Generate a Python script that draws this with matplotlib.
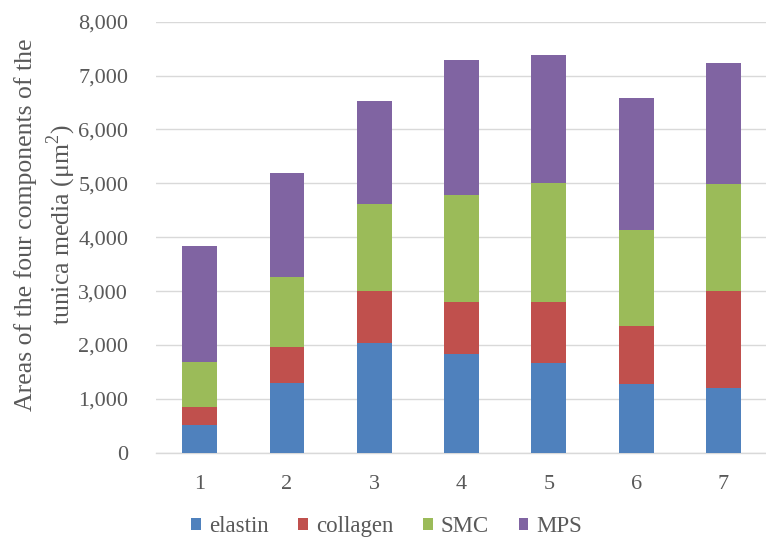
import matplotlib
matplotlib.use("Agg")
import matplotlib.pyplot as plt
from matplotlib.ticker import FuncFormatter
import numpy as np

plt.rcParams['font.family'] = ['Liberation Serif', 'DejaVu Serif']
plt.rcParams['mathtext.fontset'] = 'custom'
plt.rcParams['mathtext.rm'] = 'Liberation Serif'

categories = ["1", "2", "3", "4", "5", "6", "7"]
elastin = [510, 1290, 2030, 1840, 1670, 1270, 1195]
collagen = [330, 670, 970, 950, 1120, 1090, 1805]
smc = [850, 1305, 1620, 2000, 2210, 1770, 1980]
mps = [2150, 1925, 1905, 2500, 2380, 2460, 2260]

series = [
    ("elastin", elastin, "#4F81BD"),
    ("collagen", collagen, "#C0504D"),
    ("SMC", smc, "#9BBB59"),
    ("MPS", mps, "#8064A2"),
]

fig = plt.figure(figsize=(7.66, 5.43), dpi=100)
ax = fig.add_axes([0.2037, 0.1663, 0.7977, 0.7937])

x = np.arange(1, len(categories) + 1)
bottom = np.zeros(len(categories))
for name, vals, color in series:
    ax.bar(x, vals, width=0.4, bottom=bottom, color=color, label=name, zorder=3)
    bottom += np.array(vals)

ax.set_xlim(0.5, 7.5)
ax.set_ylim(0, 8000)
ax.set_yticks(np.arange(0, 8001, 1000))
ax.yaxis.set_major_formatter(FuncFormatter(lambda v, p: f"{int(v):,}"))
ax.set_xticks(x)
ax.set_xticklabels(categories)

ax.grid(axis='y', color='#D9D9D9', linewidth=1.0, zorder=0)
for s in ['top', 'right', 'left']:
    ax.spines[s].set_visible(False)
ax.spines['bottom'].set_color('#D9D9D9')
ax.spines['bottom'].set_linewidth(1.0)
ax.tick_params(axis='both', length=0, colors='#595959', labelsize=16)
ax.tick_params(axis='y', pad=20)
ax.tick_params(axis='x', pad=16)

fig.text(0.060, 0.586,
         "Areas of the four components of the\ntunica media (\u03bcm$^{\\mathrm{2}}$)",
         rotation=90, ha='center', va='center', fontsize=18.5,
         color='#595959', linespacing=1.3)

fig.legend(*ax.get_legend_handles_labels(), loc='center',
           bbox_to_anchor=(0.505, 0.03), ncol=4, frameon=False,
           prop=dict(family='Liberation Serif', size=16.5),
           labelcolor='#595959', handlelength=0.42, handleheight=0.42,
           handletextpad=0.35, columnspacing=1.3, borderpad=0.2)

fig.savefig("out.png", dpi=100, facecolor='white')
